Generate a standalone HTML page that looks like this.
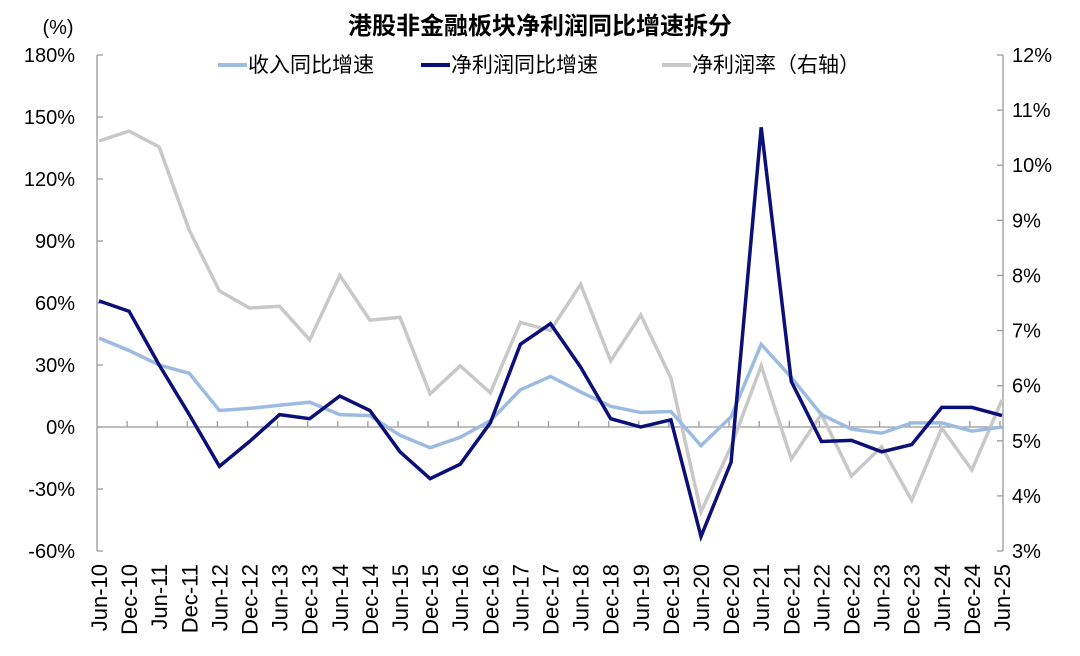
<!DOCTYPE html>
<html><head><meta charset="utf-8"><style>
body{margin:0;background:#fff;width:1080px;height:656px;overflow:hidden}
svg{display:block;font-family:"Liberation Sans","Noto Sans CJK SC",sans-serif}
</style></head><body>
<svg id="c" width="1080" height="656"></svg>
<script>
const categories=["Jun-10","Dec-10","Jun-11","Dec-11","Jun-12","Dec-12","Jun-13","Dec-13","Jun-14","Dec-14","Jun-15","Dec-15","Jun-16","Dec-16","Jun-17","Dec-17","Jun-18","Dec-18","Jun-19","Dec-19","Jun-20","Dec-20","Jun-21","Dec-21","Jun-22","Dec-22","Jun-23","Dec-23","Jun-24","Dec-24","Jun-25"];
const revenueGrowth=[43,37,30,26,8,9,10.5,12,6,5.5,-4,-10,-5,3,18,24.5,17,10,7,7.5,-9,5,40,24,6,-1,-3,2,2,-2,0];
const profitGrowth=[61,56,30,6,-19,-7,6,4,15,8,-12,-25,-18,2,40,50,29,4,0,3.5,-53,-17,145,22,-7,-6.5,-12,-8.5,9.5,9.5,5.5];
const netMargin=[10.44,10.62,10.33,8.82,7.72,7.41,7.44,6.83,8.0,7.19,7.24,5.85,6.36,5.87,7.15,7.0,7.84,6.45,7.28,6.14,3.71,4.9,6.36,4.67,5.48,4.36,4.89,3.92,5.23,4.47,5.74];
const leftTicks=[180,150,120,90,60,30,0,-30,-60];
const rightTicks=[12,11,10,9,8,7,6,5,4,3];
const NS="http://www.w3.org/2000/svg";
const svg=document.getElementById("c");
const yL=v=>427-(v)*496/240;
const yR=v=>55+(12-v)*496/9;
const xC=i=>99+i*30.1;
function el(t,a,txt){const e=document.createElementNS(NS,t);for(const k in a)e.setAttribute(k,a[k]);if(txt!==undefined)e.textContent=txt;svg.appendChild(e);return e;}
let e;
e=el("text",{x:540,y:34,"text-anchor":"middle","font-size":24,"font-weight":"bold",fill:"#000"},"港股非金融板块净利润同比增速拆分");


e=el("text",{x:58,y:34,"text-anchor":"middle","font-size":20,fill:"#000"},"(%)");


e=el("line",{x1:97,y1:55,x2:97,y2:551,stroke:"#999","stroke-width":1.3});


e=el("line",{x1:1003,y1:55,x2:1003,y2:551,stroke:"#999","stroke-width":1.3});


e=el("line",{x1:97,y1:yL(0),x2:1003,y2:yL(0),stroke:"#999","stroke-width":1.3});


leftTicks.forEach(v=>{
 e=el("line",{x1:97,y1:yL(v),x2:103,y2:yL(v),stroke:"#999","stroke-width":1.3});
 
 
 e=el("text",{x:75,y:yL(v)+7,"text-anchor":"end","font-size":20,fill:"#000"},v+"%");
 
 
});
rightTicks.forEach(v=>{
 e=el("line",{x1:997,y1:yR(v),x2:1003,y2:yR(v),stroke:"#999","stroke-width":1.3});
 
 
 e=el("text",{x:1012,y:yR(v)+7,"text-anchor":"start","font-size":20,fill:"#000"},v+"%");
 
 
});
categories.forEach((c,i)=>{
 if(i>0){e=el("line",{x1:xC(i)-2,y1:yL(0),x2:xC(i)-2,y2:yL(0)-6,stroke:"#999","stroke-width":1.3});
 
 }
 const x=xC(i)+8;
 e=el("text",{x:x,y:564,"text-anchor":"end","font-size":22,fill:"#000",transform:`rotate(-90 ${x} 564)`},c);
 
 
});
function line(data,f,color,name){
 const p=data.map((v,i)=>xC(i).toFixed(1)+","+f(v).toFixed(1)).join(" ");
 const l=el("polyline",{points:p,fill:"none",stroke:color,"stroke-width":3.5,"stroke-linejoin":"miter"});
 
 
}
line(netMargin,yR,"#c8c8c8","net-margin-line");
line(revenueGrowth,yL,"#9dbbe0","revenue-growth-line");
line(profitGrowth,yL,"#0b0f78","profit-growth-line");
const leg=[["收入同比增速","#9dbbe0",218],["净利润同比增速","#0b0f78",421],["净利润率（右轴）","#c8c8c8",662]];
leg.forEach(([t,c,x])=>{
 e=el("line",{x1:x,y1:65,x2:x+29,y2:65,stroke:c,"stroke-width":4});
 
 
 e=el("text",{x:x+30,y:72,"font-size":21,fill:"#000"},t);
 
 
});
</script>
</body></html>
